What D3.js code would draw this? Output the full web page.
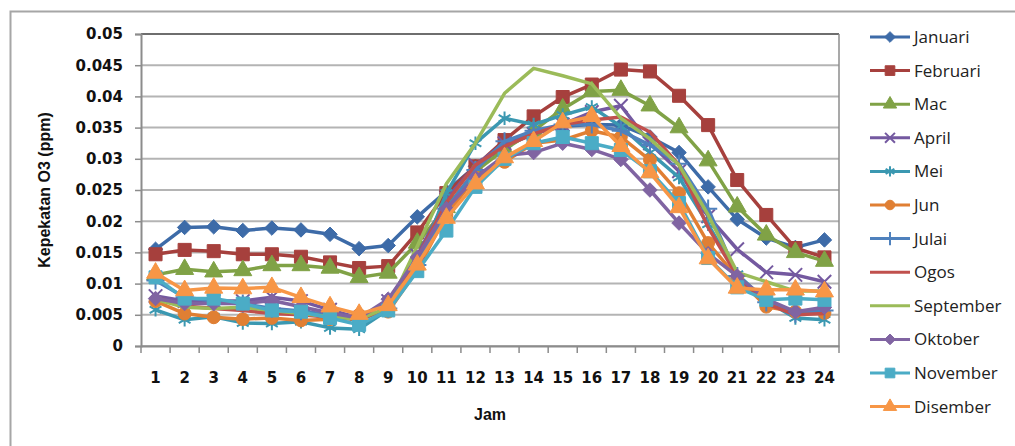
<!DOCTYPE html>
<html>
<head>
<meta charset="utf-8">
<script src="https://cdn.jsdelivr.net/npm/d3@7"></script>
<style>
  body { margin: 0; background: #fff; }
  svg { display: block; }
  .tick text { font-family: "DejaVu Sans", sans-serif; font-weight: bold; }
</style>
</head>
<body>
<div id="main"></div>
<script>
var ctx = {
    width: 1015,
    height: 446,
    left: 141, right: 839, top: 34, bottom: 346
};

var hours = d3.range(1, 25).map(String);
var months = ["Januari", "Februari", "Mac", "April", "Mei", "Jun", "Julai", "Ogos", "September", "Oktober", "November", "Disember"];
var yTicks = [0, 0.005, 0.01, 0.015, 0.02, 0.025, 0.03, 0.035, 0.04, 0.045, 0.05];

// ozone concentration (ppm) per hour
var januari   = [0.0155,0.019,0.0191,0.0185,0.0189,0.0186,0.0179,0.0156,0.0161,0.0207,0.0248,0.0288,0.032,0.034,0.0352,0.0355,0.0354,0.0335,0.031,0.0255,0.0203,0.0173,0.0158,0.017];
var februari  = [0.0147,0.0154,0.0152,0.0147,0.0147,0.0143,0.0134,0.0125,0.0128,0.0182,0.0245,0.0288,0.033,0.0368,0.0399,0.0419,0.0443,0.044,0.0401,0.0354,0.0266,0.021,0.0157,0.0142];
var mac       = [0.0114,0.0123,0.0119,0.0121,0.0129,0.0129,0.0125,0.011,0.0117,0.0165,0.0222,0.028,0.0315,0.0345,0.038,0.0408,0.041,0.0385,0.035,0.0297,0.0223,0.0178,0.015,0.0136];
var april     = [0.008,0.0072,0.0072,0.0072,0.0078,0.0072,0.0058,0.0045,0.0072,0.0145,0.0235,0.029,0.0325,0.034,0.0355,0.0375,0.0385,0.0325,0.028,0.0208,0.0155,0.0118,0.0114,0.0103];
var mei       = [0.0058,0.0042,0.0047,0.0037,0.0036,0.0039,0.0029,0.0027,0.0058,0.0128,0.0245,0.0325,0.0365,0.0355,0.037,0.0383,0.0352,0.031,0.027,0.0195,0.0115,0.0072,0.0045,0.0042];
var jun       = [0.0072,0.0052,0.0046,0.0043,0.0045,0.0041,0.0043,0.005,0.0055,0.0122,0.021,0.027,0.0295,0.0325,0.033,0.0345,0.0335,0.0298,0.0245,0.0165,0.011,0.0063,0.0055,0.0053];
var julai     = [0.0105,0.0078,0.0072,0.0068,0.006,0.0056,0.005,0.0042,0.006,0.013,0.022,0.0282,0.0328,0.0345,0.0355,0.0355,0.0345,0.0322,0.0292,0.022,0.0112,0.007,0.0052,0.0057];
var ogos      = [0.0078,0.0064,0.006,0.0057,0.0052,0.005,0.0046,0.0042,0.006,0.0142,0.023,0.029,0.032,0.034,0.0355,0.0362,0.0367,0.0343,0.029,0.019,0.0112,0.0068,0.005,0.0052];
var september = [0.0075,0.0062,0.006,0.0062,0.0057,0.0052,0.0047,0.0043,0.0062,0.016,0.026,0.0325,0.0405,0.0445,0.0433,0.042,0.0365,0.0332,0.029,0.021,0.0118,0.0103,0.0088,0.0088];
var oktober   = [0.0076,0.0068,0.0068,0.0068,0.0073,0.0063,0.0053,0.0045,0.0075,0.0142,0.022,0.027,0.0305,0.031,0.0325,0.0315,0.0299,0.025,0.0197,0.0148,0.0112,0.0075,0.0055,0.0062];
var november  = [0.011,0.0076,0.0076,0.0068,0.0057,0.0055,0.0045,0.0034,0.0057,0.012,0.0185,0.0255,0.03,0.0325,0.0335,0.0325,0.0314,0.028,0.0229,0.0141,0.0094,0.0074,0.0076,0.0074];
var disember  = [0.0117,0.0089,0.0093,0.0092,0.0094,0.0078,0.0063,0.0051,0.0065,0.013,0.0205,0.026,0.0302,0.0328,0.0358,0.0368,0.032,0.0278,0.0222,0.014,0.0093,0.009,0.009,0.0087];

var values = [januari, februari, mac, april, mei, jun, julai, ogos, september, oktober, november, disember];

var colors = ["#3d6ba8", "#a6403d", "#80a246", "#7459a0", "#3b98b1", "#e07f33",
              "#4f81bd", "#c0504d", "#9bbb59", "#8064a2", "#4bacc6", "#f79646"];

// excel-like diamond: a square turned 45 degrees
var symbolRhomb = {
    draw: function(context, size) {
        var r = Math.sqrt(size / 2);
        context.moveTo(0, -r);
        context.lineTo(r, 0);
        context.lineTo(0, r);
        context.lineTo(-r, 0);
        context.closePath();
    }
};

// marker per series (null = no marker)
var markers = [
    {type: symbolRhomb, size: 105, fill: true},
    {type: d3.symbolSquare, size: 170, fill: true},
    {type: d3.symbolTriangle, size: 140, fill: true},
    {type: d3.symbolTimes, size: 120, fill: false},
    {type: d3.symbolAsterisk, size: 130, fill: false},
    {type: d3.symbolCircle, size: 130, fill: true},
    {type: d3.symbolPlus, size: 110, fill: false},
    null,
    null,
    {type: symbolRhomb, size: 105, fill: true},
    {type: d3.symbolSquare, size: 170, fill: true},
    {type: d3.symbolTriangle, size: 140, fill: true}
];

var svg = d3.select("#main").append("svg")
    .attr("width", ctx.width)
    .attr("height", ctx.height);

// chart border
svg.append("rect")
    .attr("x", 10.5).attr("y", 11.5)
    .attr("width", 1020).attr("height", 460)
    .attr("fill", "#fff")
    .attr("stroke", "#a6a6a6")
    .attr("stroke-width", 2);

var x = d3.scaleBand().domain(hours).range([ctx.left, ctx.right]).padding(0);
var y = d3.scaleLinear().domain([0, 0.05]).range([ctx.bottom, ctx.top]);
var cx = function(i) { return x(hours[i]) + x.bandwidth() / 2; };

// gridlines
svg.append("g").selectAll("line")
    .data(yTicks)
    .enter().append("line")
    .attr("x1", ctx.left).attr("x2", ctx.right)
    .attr("y1", function(d) { return y(d); })
    .attr("y2", function(d) { return y(d); })
    .attr("stroke", function(d) { return d === 0.05 ? "#6e6e6e" : "#b4b4b4"; })
    .attr("stroke-width", 2);

// right border of the plot
svg.append("line")
    .attr("x1", ctx.right).attr("x2", ctx.right)
    .attr("y1", ctx.top).attr("y2", ctx.bottom)
    .attr("stroke", "#8c8c8c").attr("stroke-width", 1.5);

// y axis
var yAxis = svg.append("g")
    .attr("transform", "translate(" + ctx.left + ",0)")
    .call(d3.axisLeft(y).tickValues(yTicks).tickSize(6).tickPadding(12)
        .tickFormat(function(d) { return d === 0 ? "0" : String(+d.toFixed(3)); }));
yAxis.select(".domain").attr("stroke", "#8c8c8c").attr("stroke-width", 2);
yAxis.selectAll(".tick line").attr("stroke", "#8c8c8c").attr("stroke-width", 1.5);
yAxis.selectAll(".tick text").attr("font-size", 15).attr("fill", "#111");

// x axis: labels at category centres, ticks on category boundaries
var xAxis = svg.append("g")
    .attr("transform", "translate(0," + ctx.bottom + ")")
    .call(d3.axisBottom(x).tickSize(0).tickPadding(26));
xAxis.select(".domain").attr("stroke", "#8c8c8c").attr("stroke-width", 2);
xAxis.selectAll(".tick text").attr("font-size", 15).attr("fill", "#111");
xAxis.selectAll(".bound")
    .data(hours.concat(["end"]))
    .enter().append("line")
    .attr("class", "bound")
    .attr("x1", function(d) { return d === "end" ? ctx.right : x(d); })
    .attr("x2", function(d) { return d === "end" ? ctx.right : x(d); })
    .attr("y1", 0).attr("y2", 7)
    .attr("stroke", "#8c8c8c").attr("stroke-width", 1.5);

// axis titles
svg.append("text")
    .attr("transform", "translate(50," + ((ctx.top + ctx.bottom) / 2) + ")rotate(-90)")
    .attr("text-anchor", "middle")
    .attr("font-family", "Liberation Sans, sans-serif")
    .attr("font-weight", "bold")
    .attr("font-size", 16)
    .attr("fill", "#111")
    .text("Kepekatan O3 (ppm)");

svg.append("text")
    .attr("x", (ctx.left + ctx.right) / 2)
    .attr("y", 420)
    .attr("text-anchor", "middle")
    .attr("font-family", "Liberation Sans, sans-serif")
    .attr("font-weight", "bold")
    .attr("font-size", 16)
    .attr("fill", "#111")
    .text("Jam");

// series
var line = d3.line()
    .x(function(d, i) { return cx(i); })
    .y(function(d) { return y(d); });

var drawMarker = function(g, m, color, scale) {
    var sym = d3.symbol().type(m.type).size(m.size * scale);
    g.attr("d", sym)
     .attr("fill", m.fill ? color : "none")
     .attr("stroke", color)
     .attr("stroke-width", m.fill ? 1 : 2);
};

var seriesG = svg.append("g");
values.forEach(function(vals, s) {
    var g = seriesG.append("g");
    g.append("path")
        .datum(vals)
        .attr("d", line)
        .attr("fill", "none")
        .attr("stroke", colors[s])
        .attr("stroke-width", 3.5)
        .attr("stroke-linejoin", "round");
    if (markers[s]) {
        g.selectAll("path.mk")
            .data(vals)
            .enter().append("path")
            .attr("class", "mk")
            .attr("transform", function(d, i) { return "translate(" + cx(i) + "," + y(d) + ")"; })
            .each(function() { drawMarker(d3.select(this), markers[s], colors[s], 1); });
    }
});

// legend
var legend = svg.append("g").attr("transform", "translate(870,37)");
var items = legend.selectAll("g")
    .data(months)
    .enter().append("g")
    .attr("transform", function(d, i) { return "translate(0," + (i * 33.6) + ")"; });
items.append("line")
    .attr("x1", 0).attr("x2", 40)
    .attr("stroke", function(d, i) { return colors[i]; })
    .attr("stroke-width", 3);
items.each(function(d, i) {
    if (markers[i]) {
        d3.select(this).append("path")
            .attr("transform", "translate(20,0)")
            .call(function(p) { drawMarker(p, markers[i], colors[i], 0.55); });
    }
});
items.append("text")
    .attr("x", 44)
    .attr("dy", "0.35em")
    .attr("font-family", "Open Sans, sans-serif")
    .attr("font-size", 17)
    .attr("fill", "#222")
    .text(function(d) { return d; });
</script>
</body>
</html>
